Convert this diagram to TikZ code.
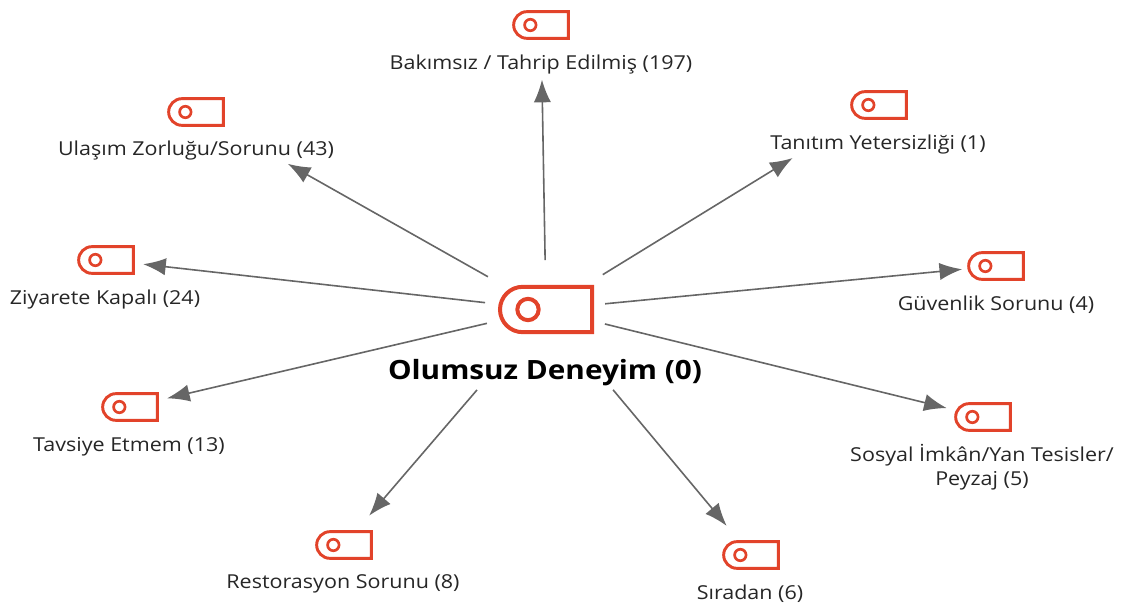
\documentclass[tikz,border=0pt]{standalone}
\usepackage{fontspec}
\setmainfont[FakeStretch=1.12]{Open Sans}
\usepackage{xcolor}
\usetikzlibrary{arrows.meta}
\usetikzlibrary{shapes.misc}
\definecolor{tagred}{HTML}{E2432A}
\definecolor{okgray}{HTML}{666666}
\tikzset{
  tagbase/.style={draw=tagred,rounded rectangle,rounded rectangle east arc=none,inner sep=0pt},
  tagsmall/.style={tagbase,line width=2.2pt,minimum width=41pt,minimum height=20pt,
    path picture={\draw[tagred,line width=2pt] ([xshift=-8pt]path picture bounding box.center) circle (4.3pt);}},
  tagbig/.style={tagbase,line width=3pt,minimum width=69pt,minimum height=34pt,
    path picture={\draw[tagred,line width=3pt] ([xshift=-13.5pt]path picture bounding box.center) circle (8pt);}},
  leaflabel/.style={inner sep=0pt,font=\fontsize{14.4pt}{18pt}\selectfont,text=black!85,align=center},
  okline/.style={okgray,line width=1.2pt,-{Latex[length=17pt,width=13pt]}}
}
\begin{document}
\begin{tikzpicture}[x=0.75pt,y=-0.75pt]
  \useasboundingbox (0,0) rectangle (1122,606);
  % center
  \node[tagbig] (olumsuz) at (546,309.5) {};
  \node[inner sep=0pt,font=\fontsize{19.9pt}{22pt}\selectfont\bfseries] (olumsuzlabel) at (545,373) {Olumsuz Deneyim (0)};
  % leaves
  \node[tagsmall] (bakimsiz) at (541,25) {};
  \node[leaflabel] (bakimsizlabel) at (541,65) {Bakımsız / Tahrip Edilmiş (197)};
  \node[tagsmall] (tanitim) at (879,105) {};
  \node[leaflabel] (tanitimlabel) at (878,145) {Tanıtım Yetersizliği (1)};
  \node[tagsmall] (guvenlik) at (996,266) {};
  \node[leaflabel] (guvenliklabel) at (996,305) {Güvenlik Sorunu (4)};
  \node[tagsmall] (sosyal) at (983,417) {};
  \node[leaflabel] (sosyallabel) at (982,467) {Sosyal İmkân/Yan Tesisler/\\Peyzaj (5)};
  \node[tagsmall] (siradan) at (751,555) {};
  \node[leaflabel] (siradanlabel) at (750,594) {Sıradan (6)};
  \node[tagsmall] (restorasyon) at (344,545) {};
  \node[leaflabel] (restorasyonlabel) at (343,584) {Restorasyon Sorunu (8)};
  \node[tagsmall] (tavsiye) at (130,407) {};
  \node[leaflabel] (tavsiyelabel) at (129,447) {Tavsiye Etmem (13)};
  \node[tagsmall] (ziyarete) at (106,260) {};
  \node[leaflabel] (ziyaretelabel) at (105,300) {Ziyarete Kapalı (24)};
  \node[tagsmall] (ulasim) at (196,112) {};
  \node[leaflabel] (ulasimlabel) at (196,151) {Ulaşım Zorluğu/Sorunu (43)};
  % arrows
  \draw[okline,shorten <=37pt,shorten >=41pt] (olumsuz.center) -- (bakimsiz.center);
  \draw[okline,shorten <=50pt,shorten >=76pt] (olumsuz.center) -- (tanitim.center);
  \draw[okline,shorten <=44.5pt,shorten >=25.5pt] (olumsuz.center) -- (guvenlik.center);
  \draw[okline,shorten <=45.5pt,shorten >=28pt] (olumsuz.center) -- (sosyal.center);
  \draw[okline,shorten <=78.5pt,shorten >=28.5pt] (olumsuz.center) -- (siradan.center);
  \draw[okline,shorten <=79.5pt,shorten >=29pt] (olumsuz.center) -- (restorasyon.center);
  \draw[okline,shorten <=45.5pt,shorten >=28.5pt] (olumsuz.center) -- (tavsiye.center);
  \draw[okline,shorten <=46pt,shorten >=28pt] (olumsuz.center) -- (ziyarete.center);
  \draw[okline,shorten <=50pt,shorten >=79pt] (olumsuz.center) -- (ulasim.center);
\end{tikzpicture}
\end{document}
